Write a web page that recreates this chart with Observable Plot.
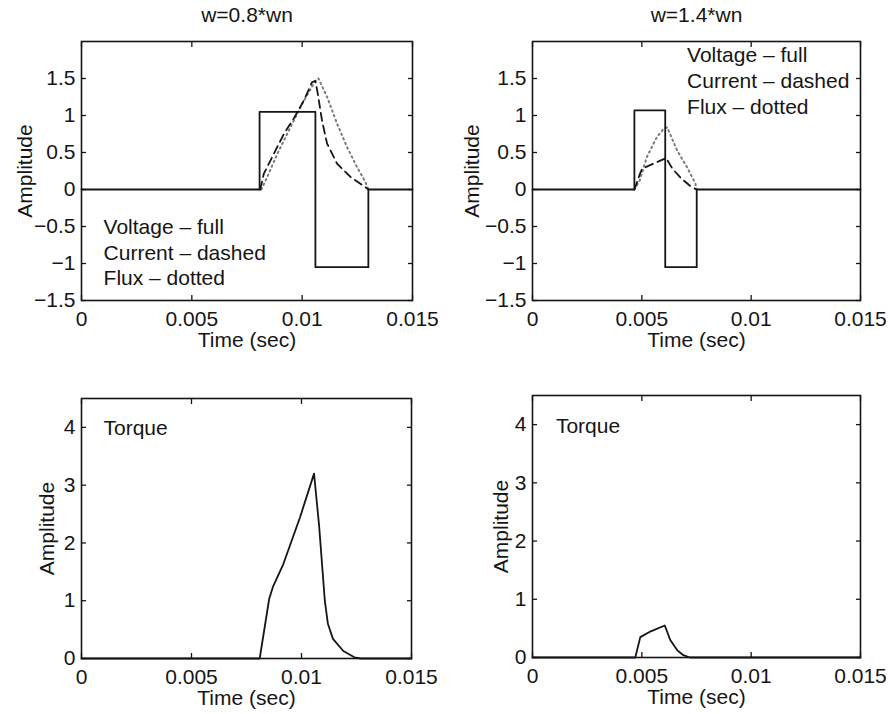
<!DOCTYPE html>
<html>
<head>
<meta charset="utf-8">
<script src="https://cdn.jsdelivr.net/npm/d3@7"></script>
<script src="https://cdn.jsdelivr.net/npm/@observablehq/plot@0.6"></script>
<style>
  html, body { margin: 0; padding: 0; background: #fff; }
  #wrap { position: relative; width: 888px; height: 714px; background: #fff; }
  .panel { position: absolute; }
</style>
</head>
<body>
<div id="wrap"></div>
<script>
// ---------- data ----------
const titles = ["w=0.8*wn", "w=1.4*wn"];
const xTicks = [0, 0.005, 0.01, 0.015];
const yTicksTop = [-1.5, -1, -0.5, 0, 0.5, 1, 1.5];
const yTicksBottom = [0, 1, 2, 3, 4];
const legendLines = ["Voltage – full", "Current – dashed", "Flux – dotted"];

// w = 0.8*wn
const voltA_t = [0, 0.00807, 0.00807, 0.0106, 0.0106, 0.0130, 0.0130, 0.015];
const voltA_v = [0, 0, 1.05, 1.05, -1.05, -1.05, 0, 0];
const currA_t = [0.0081, 0.00826, 0.00871, 0.00917, 0.00962, 0.01007, 0.01045, 0.0106, 0.01071, 0.0109, 0.01113, 0.01158, 0.01219, 0.01287, 0.0130];
const currA_v = [0, 0.21, 0.48, 0.75, 0.96, 1.2, 1.45, 1.47, 1.29, 0.93, 0.62, 0.35, 0.17, 0.03, 0];
const fluxA_t = [0.00815, 0.00842, 0.00887, 0.00947, 0.0100, 0.0106, 0.01074, 0.01113, 0.01158, 0.01204, 0.01249, 0.01287, 0.0130];
const fluxA_v = [0, 0.17, 0.48, 0.84, 1.16, 1.47, 1.5, 1.25, 0.89, 0.57, 0.3, 0.1, 0];
const torqA_t = [0, 0.0081, 0.00853, 0.00871, 0.00917, 0.00993, 0.01057, 0.0108, 0.01106, 0.0112, 0.01143, 0.0119, 0.0124, 0.0127, 0.015];
const torqA_v = [0, 0, 1.03, 1.25, 1.63, 2.44, 3.2, 2.3, 1.0, 0.6, 0.34, 0.13, 0.02, 0, 0];

// w = 1.4*wn
const voltB_t = [0, 0.00466, 0.00466, 0.00607, 0.00607, 0.00751, 0.00751, 0.015];
const voltB_v = [0, 0, 1.07, 1.07, -1.05, -1.05, 0, 0];
const currB_t = [0.00466, 0.0049, 0.00501, 0.0060, 0.0061, 0.0064, 0.0068, 0.0072, 0.0075];
const currB_v = [0, 0.2, 0.28, 0.41, 0.43, 0.28, 0.15, 0.05, 0];
const fluxB_t = [0.00466, 0.0049, 0.00523, 0.00569, 0.0060, 0.00616, 0.00661, 0.00707, 0.00745, 0.0075];
const fluxB_v = [0, 0.12, 0.44, 0.71, 0.82, 0.84, 0.53, 0.3, 0.08, 0];
const torqB_t = [0, 0.0047, 0.00493, 0.00541, 0.00605, 0.0063, 0.00663, 0.0069, 0.0072, 0.015];
const torqB_v = [0, 0, 0.35, 0.45, 0.55, 0.3, 0.12, 0.04, 0, 0];

// text anchors (data coordinates)
const legendA = {x: 0.001, y: [-0.51, -0.855, -1.2]};
const legendB = {x: 0.00707, y: [1.81, 1.46, 1.11]};
const torqueLabel = "Torque";
const torqueA = {x: 0.001, y: 3.98};
const torqueB = {x: 0.00107, y: 3.98};

// ---------- helpers ----------
const zip = (t, v) => t.map((d, i) => ({t: d, v: v[i]}));
const ink = "#151515";
const FS = 21;
const fmtY = d => d < 0 ? "\u2212" + (-d) : String(d);
const fmtX = d => String(d);
const blank = () => "";

function axes(yTicks) {
  return [
    // tick labels
    Plot.text(xTicks, {x: d => d, text: fmtX, frameAnchor: "bottom", dy: 19, lineAnchor: "middle", fontSize: FS, fill: ink}),
    Plot.text(yTicks, {y: d => d, text: fmtY, frameAnchor: "left", dx: -6, textAnchor: "end", lineAnchor: "middle", fontSize: FS, fill: ink}),
    // inward ticks on all four sides
    Plot.axisX({ticks: xTicks, anchor: "bottom", tickSize: 5, dy: -5, tickFormat: blank, label: null, stroke: ink, strokeWidth: 1.3}),
    Plot.axisX({ticks: xTicks, anchor: "top", tickSize: 5, dy: 5, tickFormat: blank, label: null, stroke: ink, strokeWidth: 1.3}),
    Plot.axisY({ticks: yTicks, anchor: "left", tickSize: 5, dx: 5, tickFormat: blank, label: null, stroke: ink, strokeWidth: 1.3}),
    Plot.axisY({ticks: yTicks, anchor: "right", tickSize: 5, dx: -5, tickFormat: blank, label: null, stroke: ink, strokeWidth: 1.3})
  ];
}

function panel({left, top, margins, yDomain, yTicks, title, ylabDx, marks}) {
  const [mt, mr, mb, ml] = margins;
  const p = Plot.plot({
    width: 444, height: 357,
    marginTop: mt, marginRight: mr, marginBottom: mb, marginLeft: ml,
    x: {domain: [0, 0.015]},
    y: {domain: yDomain},
    style: {fontFamily: "'Liberation Sans', Arial, sans-serif", fontSize: FS + "px", color: ink, background: "transparent", overflow: "visible"},
    marks: [
      ...axes(yTicks),
      ...marks,
      Plot.frame({stroke: ink, strokeWidth: 1.6}),
      title ? Plot.text([title], {text: d => d, frameAnchor: "top", dy: -26, lineAnchor: "middle", fontSize: FS, fill: ink}) : null,
      Plot.text(["Amplitude"], {text: d => d, frameAnchor: "left", rotate: -90, dx: -ylabDx, textAnchor: "middle", lineAnchor: "middle", fontSize: FS, fill: ink}),
      Plot.text(["Time (sec)"], {text: d => d, frameAnchor: "bottom", dy: 40, lineAnchor: "middle", fontSize: FS, fill: ink})
    ]
  });
  const div = document.createElement("div");
  div.className = "panel";
  div.style.left = left + "px";
  div.style.top = top + "px";
  div.appendChild(p);
  document.getElementById("wrap").appendChild(div);
}

const solid = {stroke: ink, strokeWidth: 1.8};
const dashed = {stroke: ink, strokeWidth: 1.8, strokeDasharray: "8,5"};
const dotted = {stroke: "#7a7a7a", strokeWidth: 2, strokeDasharray: "1.5,3.5", strokeLinecap: "round"};

function legendMarks(pos) {
  return Plot.text(legendLines.map((s, i) => ({s, x: pos.x, y: pos.y[i]})),
    {x: "x", y: "y", text: "s", textAnchor: "start", fontSize: FS, fill: ink});
}

panel({
  left: 0, top: 0, margins: [41, 32, 57, 81], yDomain: [-1.5, 2], yTicks: yTicksTop,
  title: titles[0], ylabDx: 56,
  marks: [
    Plot.line(zip(fluxA_t, fluxA_v), {x: "t", y: "v", ...dotted}),
    Plot.line(zip(currA_t, currA_v), {x: "t", y: "v", ...dashed}),
    Plot.line(zip(voltA_t, voltA_v), {x: "t", y: "v", ...solid}),
    legendMarks(legendA)
  ]
});

panel({
  left: 444, top: 0, margins: [41, 28, 57, 88], yDomain: [-1.5, 2], yTicks: yTicksTop,
  title: titles[1], ylabDx: 60,
  marks: [
    Plot.line(zip(fluxB_t, fluxB_v), {x: "t", y: "v", ...dotted}),
    Plot.line(zip(currB_t, currB_v), {x: "t", y: "v", ...dashed}),
    Plot.line(zip(voltB_t, voltB_v), {x: "t", y: "v", ...solid}),
    legendMarks(legendB)
  ]
});

panel({
  left: 0, top: 357, margins: [41, 33, 56, 81], yDomain: [0, 4.5], yTicks: yTicksBottom,
  title: null, ylabDx: 34,
  marks: [
    Plot.line(zip(torqA_t, torqA_v), {x: "t", y: "v", ...solid}),
    Plot.text([torqueA], {x: "x", y: "y", text: () => torqueLabel, textAnchor: "start", fontSize: FS, fill: ink})
  ]
});

panel({
  left: 444, top: 357, margins: [38, 28, 57, 88], yDomain: [0, 4.5], yTicks: yTicksBottom,
  title: null, ylabDx: 31,
  marks: [
    Plot.line(zip(torqB_t, torqB_v), {x: "t", y: "v", ...solid}),
    Plot.text([torqueB], {x: "x", y: "y", text: () => torqueLabel, textAnchor: "start", fontSize: FS, fill: ink})
  ]
});
</script>
</body>
</html>
